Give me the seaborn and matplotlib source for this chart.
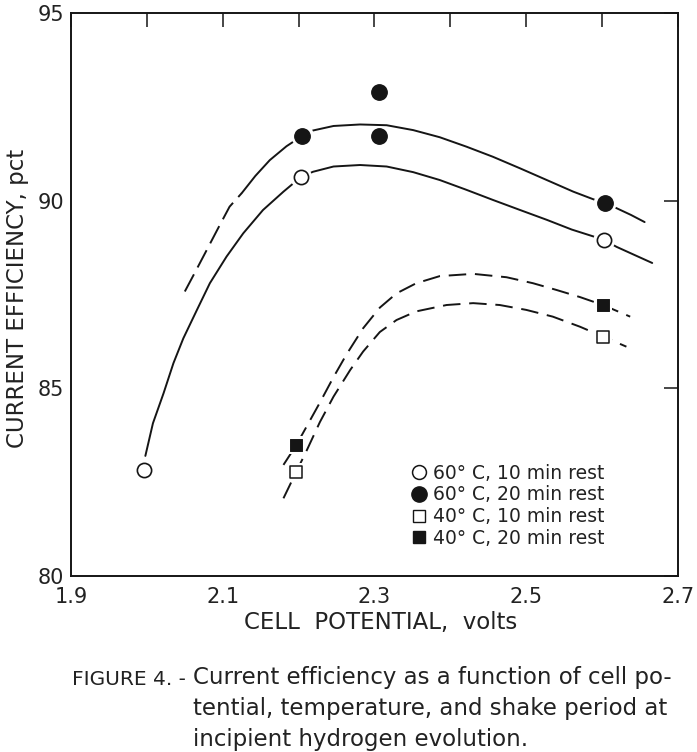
import matplotlib
matplotlib.use("Agg")
import matplotlib.pyplot as plt
from matplotlib.lines import Line2D
import seaborn as sns

# measured points
open_circ_x = [1.996, 2.203, 2.603]
open_circ_y = [82.82, 90.63, 88.95]
fill_circ_x = [2.205, 2.306, 2.306, 2.604]
fill_circ_y = [91.73, 92.9, 91.72, 89.93]
open_sq_x = [2.197, 2.601]
open_sq_y = [82.78, 86.38]
fill_sq_x = [2.197, 2.601]
fill_sq_y = [83.49, 87.22]

# hand drawn curves
curve_a_x = [1.998, 2.008, 2.022, 2.035, 2.048, 2.066, 2.083, 2.105, 2.127, 2.153,
             2.180, 2.203, 2.219, 2.246, 2.281, 2.316, 2.351, 2.386, 2.421, 2.456,
             2.492, 2.527, 2.56, 2.588, 2.603, 2.619, 2.643, 2.666]
curve_a_y = [83.2, 84.07, 84.87, 85.67, 86.33, 87.09, 87.80, 88.51, 89.13, 89.75,
             90.24, 90.63, 90.77, 90.91, 90.95, 90.91, 90.76, 90.55, 90.29, 90.02,
             89.75, 89.49, 89.23, 89.05, 88.95, 88.77, 88.55, 88.34]
curve_b_dash_x = [2.05, 2.065, 2.079, 2.094, 2.109, 2.125]
curve_b_dash_y = [87.58, 88.15, 88.69, 89.27, 89.84, 90.2]
curve_b_x = [2.125, 2.143, 2.162, 2.184, 2.205, 2.219, 2.246, 2.281, 2.316, 2.351,
             2.386, 2.421, 2.456, 2.492, 2.527, 2.562, 2.588, 2.604, 2.619, 2.638,
             2.656]
curve_b_y = [90.2, 90.66, 91.08, 91.45, 91.73, 91.87, 91.99, 92.03, 92.01, 91.88,
             91.69, 91.44, 91.17, 90.86, 90.55, 90.24, 90.04, 89.93, 89.80, 89.62,
             89.43]
curve_c_x = [2.180, 2.197, 2.211, 2.228, 2.246, 2.263, 2.285, 2.307, 2.329, 2.355,
             2.386, 2.430, 2.474, 2.509, 2.540, 2.571, 2.601, 2.637]
curve_c_y = [82.96, 83.49, 84.0, 84.62, 85.3, 85.9, 86.6, 87.15, 87.53, 87.80,
             87.99, 88.05, 87.96, 87.80, 87.62, 87.43, 87.22, 86.91]
curve_d_x = [2.180, 2.197, 2.211, 2.228, 2.246, 2.268, 2.285, 2.307, 2.329, 2.355,
             2.395, 2.430, 2.465, 2.500, 2.535, 2.571, 2.601, 2.632]
curve_d_y = [82.07, 82.78, 83.36, 84.10, 84.78, 85.49, 85.98, 86.50, 86.82, 87.05,
             87.22, 87.27, 87.22, 87.09, 86.91, 86.64, 86.38, 86.11]

legend_labels = ["60° C, 10 min rest", "60° C, 20 min rest",
                 "40° C, 10 min rest", "40° C, 20 min rest"]

sns.set_style("white")
plt.rcParams['font.family'] = ['DejaVu Sans']

fig = plt.figure(figsize=(6.97, 7.52), dpi=100)
ax = fig.add_axes([71 / 697, 176 / 752, 607 / 697, 563 / 752])

ink = '#151515'
lw = 1.4
dash = (0, (9, 4.5))

sns.lineplot(x=curve_a_x, y=curve_a_y, ax=ax, color=ink, lw=lw, sort=False, estimator=None)
sns.lineplot(x=curve_b_x, y=curve_b_y, ax=ax, color=ink, lw=lw, sort=False, estimator=None)
sns.lineplot(x=curve_b_dash_x, y=curve_b_dash_y, ax=ax, color=ink, lw=lw, sort=False,
             estimator=None, linestyle=(0, (10, 4)))
sns.lineplot(x=curve_c_x, y=curve_c_y, ax=ax, color=ink, lw=lw, sort=False,
             estimator=None, linestyle=dash)
sns.lineplot(x=curve_d_x, y=curve_d_y, ax=ax, color=ink, lw=lw, sort=False,
             estimator=None, linestyle=dash)

# white halos so the lines stop short of the symbols (not for the two points at 2.3)
halo_c_x = [fill_circ_x[0], fill_circ_x[3]]
halo_c_y = [fill_circ_y[0], fill_circ_y[3]]
for xs, ys, m, s in [(open_circ_x, open_circ_y, 'o', 250), (halo_c_x, halo_c_y, 'o', 270),
                     (open_sq_x, open_sq_y, 's', 160), (fill_sq_x, fill_sq_y, 's', 160)]:
    sns.scatterplot(x=xs, y=ys, ax=ax, marker=m, s=s, color='white', edgecolor='none',
                    zorder=3, legend=False)

sns.scatterplot(x=open_circ_x, y=open_circ_y, ax=ax, marker='o', s=105, facecolor='white',
                edgecolor=ink, linewidth=1.2, zorder=4, legend=False)
sns.scatterplot(x=fill_circ_x, y=fill_circ_y, ax=ax, marker='o', s=125, color=ink,
                edgecolor=ink, zorder=4, legend=False)
sns.scatterplot(x=open_sq_x, y=open_sq_y, ax=ax, marker='s', s=65, facecolor='white',
                edgecolor=ink, linewidth=1.1, zorder=4, legend=False)
sns.scatterplot(x=fill_sq_x, y=fill_sq_y, ax=ax, marker='s', s=70, color=ink,
                edgecolor=ink, zorder=4, legend=False)

ax.set_xlim(1.9, 2.7)
ax.set_ylim(80, 95)
ax.set_xticks([1.9, 2.1, 2.3, 2.5, 2.7])
ax.set_xticklabels(['1.9', '2.1', '2.3', '2.5', '2.7'])
ax.set_xticks([2.0, 2.2, 2.4, 2.6], minor=True)
ax.set_yticks([80, 85, 90, 95])
ax.tick_params(axis='both', which='both', direction='in', length=10, width=1.1,
               color=ink, top=True, right=True, labelsize=15, labelcolor='#222')
ax.tick_params(axis='x', which='major', pad=8)
ax.tick_params(axis='y', which='major', pad=5)
for sp in ax.spines.values():
    sp.set_color(ink)
    sp.set_linewidth(1.4)
ax.set_xlabel('')
ax.set_ylabel('')

handles = [
    Line2D([], [], ls='', marker='o', ms=10, mfc='white', mec=ink, mew=1.1),
    Line2D([], [], ls='', marker='o', ms=11, mfc=ink, mec=ink),
    Line2D([], [], ls='', marker='s', ms=8, mfc='white', mec=ink, mew=1.0),
    Line2D([], [], ls='', marker='s', ms=8, mfc=ink, mec=ink),
]
ax.legend(handles, legend_labels, loc='lower left', bbox_to_anchor=(0.545, 0.033),
          frameon=False, fontsize=13.5, handlelength=0.8, handletextpad=0.35,
          labelspacing=0.15, borderpad=0, labelcolor='#222')

fig.text(18 / 697, 1 - 298 / 752, 'CURRENT EFFICIENCY, pct', rotation=90, ha='center',
         va='center', fontsize=16.5, color='#222')
fig.text(381 / 697, 1 - 622 / 752, 'CELL  POTENTIAL,  volts', ha='center', va='center',
         fontsize=16.5, color='#222')

fig.text(186 / 697, 1 - 685 / 752, 'FIGURE 4. -', ha='right', va='baseline',
         fontsize=14.5, color='#222')
fig.text(193 / 697, 1 - 666 / 752, 'Current efficiency as a function of cell po-\n'
         'tential, temperature, and shake period at\n'
         'incipient hydrogen evolution.', ha='left', va='top', fontsize=16.5,
         color='#222', linespacing=1.45)

fig.savefig('out.png', dpi=100)
